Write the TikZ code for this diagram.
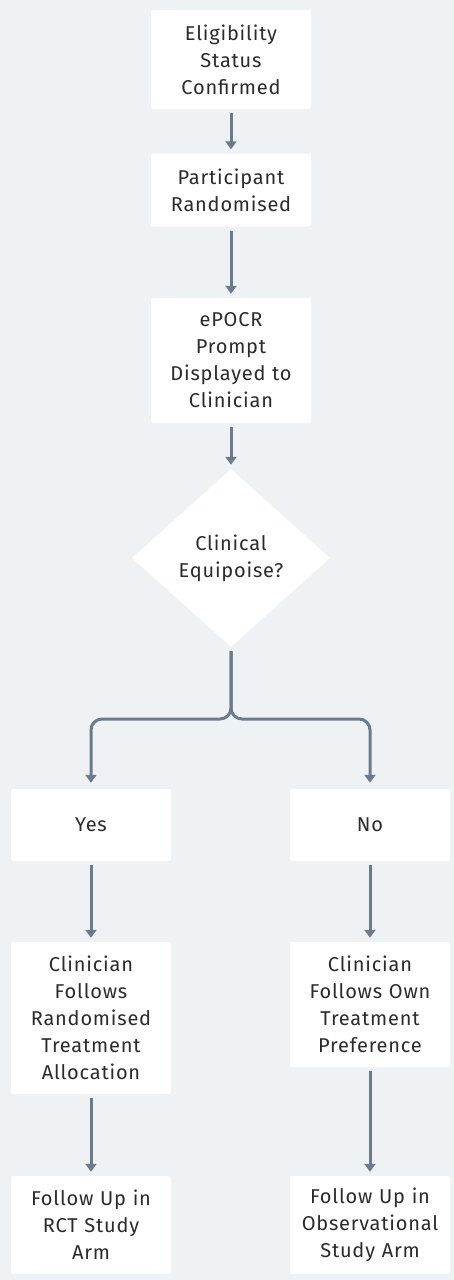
\documentclass[tikz,border=0pt]{standalone}
\usepackage{fontspec}
\setmainfont[LetterSpace=4]{Fira Sans}
\usetikzlibrary{shapes.geometric,arrows.meta}
\definecolor{bg}{HTML}{EFF2F5}
\definecolor{linec}{HTML}{6B7B8B}
\definecolor{txt}{HTML}{2B2B2B}
\tikzset{
  box/.style={draw=none,fill=white,rounded corners=2pt,minimum width=160pt,text width=156pt,align=center,inner sep=0pt,text=txt,font=\fontsize{20}{27}\selectfont},
  dec/.style={shape=diamond,draw=none,fill=white,minimum width=198pt,minimum height=178pt,inner sep=0pt,align=center,text=txt,font=\fontsize{20}{27}\selectfont},
  conn/.style={draw=linec,line width=3pt,-{Triangle[width=11pt,length=8pt]},shorten <=4pt,shorten >=4pt},
  branch/.style={conn,rounded corners=11pt,shorten >=6pt}
}
\begin{document}
\begin{tikzpicture}[x=1pt,y=-1pt]
\fill[bg] (0,0) rectangle (454,1280);
\useasboundingbox (0,0) rectangle (454,1280);
\node[box,minimum height=99pt] (b1) at (231,59.5) {Eligibility\\Status\\Confirmed};
\node[box,minimum height=73pt] (b2) at (231,190) {Participant\\Randomised};
\node[box,minimum height=125pt] (b3) at (231,360.5) {ePOCR\\Prompt\\Displayed to\\Clinician};
\node[dec] (d) at (231,558) {Clinical\\Equipoise?};
\node[box,minimum height=72pt] (yes) at (91,825) {Yes};
\node[box,minimum height=72pt] (no) at (370,825) {No};
\node[box,minimum height=152pt] (cl) at (91,1018) {Clinician\\Follows\\Randomised\\Treatment\\Allocation};
\node[box,minimum height=125pt] (cr) at (370,1004.5) {Clinician\\Follows Own\\Treatment\\Preference};
\node[box,minimum height=98pt] (fl) at (91,1225) {Follow Up in\\RCT Study\\Arm};
\node[box,minimum height=98pt] (fr) at (370,1225) {Follow Up in\\Observational\\Study Arm};
\draw[conn] (b1) -- (b2);
\draw[conn] (b2) -- (b3);
\draw[conn] (b3) -- (d);
\draw[branch] (d.south) -- (d.south |- 0,719) -- (yes.north |- 0,719) -- (yes.north);
\draw[branch] (d.south) -- (d.south |- 0,719) -- (no.north |- 0,719) -- (no.north);
\draw[conn] (yes) -- (cl);
\draw[conn] (no) -- (cr);
\draw[conn] (cl) -- (fl);
\draw[conn] (cr) -- (fr);
\end{tikzpicture}
\end{document}
